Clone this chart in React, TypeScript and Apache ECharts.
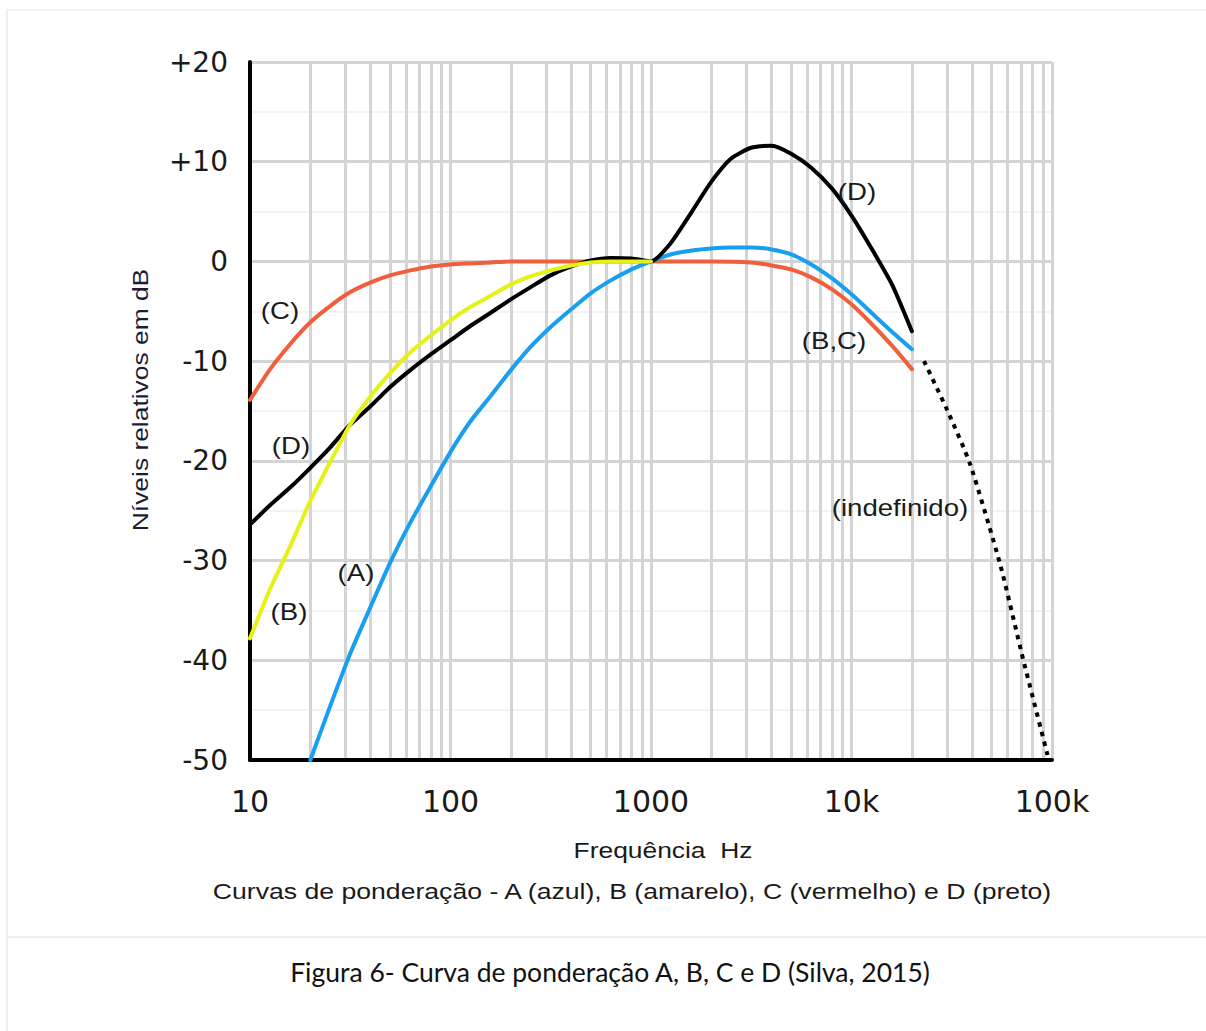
import React, { useEffect, useRef } from "react";
import * as echarts from "echarts";

// ---- data (frequency in Hz, level in dB) ----
const freqA = [20, 25, 31.5, 40, 50, 63, 80, 100, 125, 160, 200, 250, 315, 400, 500, 630, 800, 1000, 1250, 1600, 2000, 2500, 3150, 4000, 5000, 6300, 8000, 10000, 12500, 16000, 20000];
const dbA = [-50, -44.7, -39.4, -34.6, -30.2, -26.2, -22.5, -19.1, -16.1, -13.4, -10.9, -8.6, -6.6, -4.8, -3.2, -1.9, -0.8, 0, 0.7, 1.1, 1.3, 1.4, 1.4, 1.2, 0.7, -0.3, -1.7, -3.3, -5.1, -7.1, -8.8];

const freqB = [10, 12.5, 16, 20, 25, 31.5, 40, 50, 63, 80, 100, 125, 160, 200, 250, 315, 400, 500, 630, 800, 1000];
const dbB = [-37.8, -33, -28.4, -24, -20.2, -16.4, -13.5, -11.2, -9.1, -7.4, -5.9, -4.6, -3.4, -2.3, -1.5, -0.9, -0.4, -0.1, 0, 0, 0];

const freqC = [10, 12.5, 16, 20, 25, 31.5, 40, 50, 63, 80, 100, 125, 160, 200, 500, 1000, 2000, 3150, 4000, 5000, 6300, 8000, 10000, 12500, 16000, 20000];
const dbC = [-13.9, -10.9, -8.2, -6.1, -4.5, -3.1, -2.1, -1.4, -0.9, -0.5, -0.3, -0.2, -0.1, 0, 0, 0, 0, -0.1, -0.4, -0.8, -1.6, -2.8, -4.3, -6.2, -8.5, -10.8];

const freqD = [10, 12.5, 16, 20, 25, 31.5, 40, 50, 63, 80, 100, 125, 160, 200, 250, 315, 400, 500, 630, 800, 1000, 1250, 1600, 2000, 2500, 3150, 4000, 5000, 6300, 8000, 10000, 12500, 16000, 20000];
const dbD = [-26.4, -24.5, -22.6, -20.7, -18.7, -16.4, -14.5, -12.6, -10.9, -9.3, -7.9, -6.5, -5.1, -3.8, -2.6, -1.4, -0.5, 0.1, 0.35, 0.3, 0, 1.8, 5.0, 8.0, 10.3, 11.4, 11.6, 10.8, 9.4, 7.3, 4.6, 1.4, -2.4, -7.0];

const freqUndef = [23000, 30000, 39000, 55000, 72000, 95000];
const dbUndef = [-10, -14.9, -20.3, -30.3, -40, -49.5];

const xTickLabels: Record<string, string> = { "1": "10", "2": "100", "3": "1000", "4": "10k", "5": "100k" };
const minorFreqs = [
  20, 30, 40, 50, 60, 70, 80, 90,
  200, 300, 400, 500, 600, 700, 800, 900,
  2000, 3000, 4000, 5000, 6000, 7000, 8000, 9000,
  20000, 30000, 40000, 50000, 60000, 70000, 80000, 90000,
];

const curveLabels = [
  { text: "(C)", x: 280, y: 311 },
  { text: "(D)", x: 291, y: 446 },
  { text: "(B)", x: 289, y: 612 },
  { text: "(A)", x: 356, y: 573 },
  { text: "(D)", x: 857, y: 192 },
  { text: "(B,C)", x: 834, y: 341 },
  { text: "(indefinido)", x: 900, y: 508 },
];

const xAxisTitle = "Frequência  Hz";
const subtitle = "Curvas de ponderação - A (azul), B (amarelo), C (vermelho) e D (preto)";
const yAxisTitle = "Níveis relativos em dB";
const caption = "Figura 6- Curva de ponderação A, B, C e D (Silva, 2015)";

const pairs = (xs: number[], ys: number[]) => xs.map((x, i) => [x, ys[i]]);

const TEXT = "#1a1a1a";
const GRID = "#d4d4d4";

export default function App() {
  const ref = useRef<HTMLDivElement>(null);
  useEffect(() => {
    if (!ref.current) return;
    const chart = echarts.init(ref.current, null, { renderer: "svg" });
    const lineSeries = (name: string, data: number[][], color: string, z: number, extra: any = {}) => ({
      name,
      type: "line",
      data,
      smooth: 0.2,
      showSymbol: false,
      symbol: "none",
      z,
      lineStyle: { color, width: 4, cap: "round", join: "round", ...extra },
      silent: true,
    });
    const option: any = {
      animation: false,
      backgroundColor: "#ffffff",
      grid: { left: 250, top: 62, width: 802, height: 698, containLabel: false, outerBoundsMode: "none" },
      xAxis: {
        type: "log",
        logBase: 10,
        min: 10,
        max: 100000,
        axisLine: { show: true, onZero: false, lineStyle: { color: "#000", width: 4 } },
        axisTick: { show: false },
        axisLabel: {
          fontSize: 30,
          fontFamily: "DejaVu Sans",
          color: TEXT,
          margin: 26,
          formatter: (v: number) => xTickLabels[String(Math.round(Math.log10(v)))] ?? "",
        },
        splitLine: { show: true, lineStyle: { color: GRID, width: 3 } },
      },
      yAxis: {
        type: "value",
        min: -50,
        max: 20,
        interval: 10,
        axisLine: { show: true, onZero: false, lineStyle: { color: "#000", width: 4 } },
        axisTick: { show: false },
        axisLabel: {
          fontSize: 28,
          fontFamily: "DejaVu Sans",
          color: TEXT,
          margin: 22,
          formatter: (v: number) => (v > 0 ? "+" + v : String(v)),
        },
        splitLine: { show: true, lineStyle: { color: GRID, width: 3 } },
        minorTick: { show: false, splitNumber: 2 },
        minorSplitLine: { show: true, lineStyle: { color: "#f3f3f3", width: 2 } },
      },
      series: [
        {
          type: "line",
          data: [],
          z: 0,
          silent: true,
          markLine: {
            z: 0,
            silent: true,
            symbol: ["none", "none"],
            label: { show: false },
            lineStyle: { color: GRID, width: 3, type: "solid" },
            emphasis: { disabled: true },
            data: minorFreqs.map((f) => ({ xAxis: f })),
          },
        },
        lineSeries("C", pairs(freqC, dbC), "#ef5f3c", 3),
        lineSeries("A", pairs(freqA, dbA), "#1a9ff0", 4),
        lineSeries("D", pairs(freqD, dbD), "#000000", 5),
        lineSeries("B", pairs(freqB, dbB), "#e4f216", 6),
        lineSeries("indefinido", pairs(freqUndef, dbUndef), "#000000", 5, { type: [4.5, 5.5], cap: "butt" }),
      ],
      graphic: [
        { type: "rect", shape: { x: 6, y: 9, width: 2, height: 1022 }, style: { fill: "#efefef" }, silent: true },
        { type: "rect", shape: { x: 6, y: 9, width: 1200, height: 2 }, style: { fill: "#efefef" }, silent: true },
        { type: "rect", shape: { x: 6, y: 936, width: 1200, height: 2 }, style: { fill: "#efefef" }, silent: true },
        ...curveLabels.map((l) => ({
          type: "text",
          x: l.x,
          y: l.y,
          scaleX: 1.2,
          z: 10,
          style: { text: l.text, fontSize: 23, fontFamily: "Liberation Sans", fill: TEXT, align: "center", verticalAlign: "middle" },
        })),
        {
          type: "text",
          x: 663,
          y: 850,
          scaleX: 1.2,
          style: { text: xAxisTitle, fontSize: 22, fontFamily: "Liberation Sans", fill: TEXT, align: "center", verticalAlign: "middle" },
        },
        {
          type: "text",
          x: 632,
          y: 891,
          scaleX: 1.21,
          style: { text: subtitle, fontSize: 22, fontFamily: "Liberation Sans", fill: TEXT, align: "center", verticalAlign: "middle" },
        },
        {
          type: "text",
          x: 140,
          y: 400,
          rotation: Math.PI / 2,
          scaleX: 1.2,
          style: { text: yAxisTitle, fontSize: 22, fontFamily: "Liberation Sans", fill: "#1c1c34", align: "center", verticalAlign: "middle" },
        },
        {
          type: "text",
          x: 610,
          y: 972,
          style: { text: caption, fontSize: 26.5, fontFamily: "Lato", fill: "#111", align: "center", verticalAlign: "middle" },
        },
      ],
    };
    chart.setOption(option);
    return () => chart.dispose();
  }, []);
  return (
    <div
      ref={ref}
      style={{ position: "fixed", left: 0, top: 0, width: 1206, height: 1031, background: "#fff" }}
    />
  );
}
